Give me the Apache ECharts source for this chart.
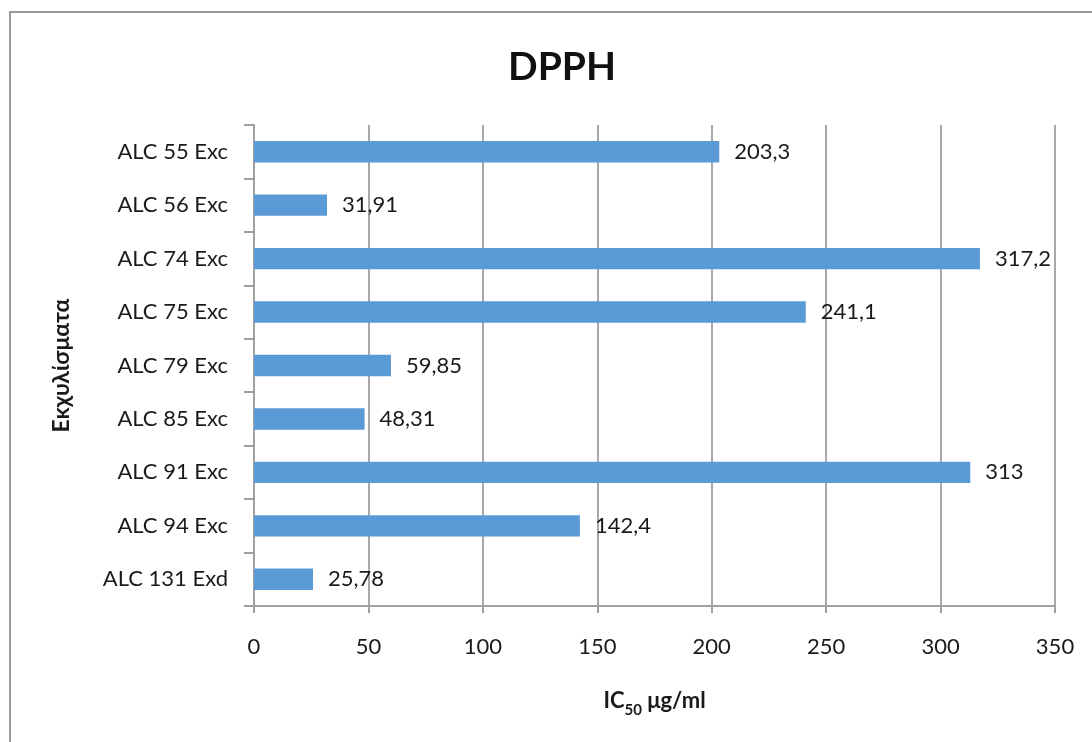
<!DOCTYPE html>
<html><head><meta charset="utf-8">
<script src="https://cdn.jsdelivr.net/npm/echarts@6/dist/echarts.min.js"></script>
<style>html,body{margin:0;padding:0;background:#fff}#c{width:1092px;height:742px}</style>
</head><body><div id="c"></div>
<script>
const categories = ['ALC 55 Exc','ALC 56 Exc','ALC 74 Exc','ALC 75 Exc','ALC 79 Exc','ALC 85 Exc','ALC 91 Exc','ALC 94 Exc','ALC 131 Exd'];
const values = [203.3, 31.91, 317.2, 241.1, 59.85, 48.31, 313, 142.4, 25.78];
const valueLabels = ['203,3','31,91','317,2','241,1','59,85','48,31','313','142,4','25,78'];
const xTicks = [0, 50, 100, 150, 200, 250, 300, 350];
const FONT = 'Lato';
const chart = echarts.init(document.getElementById('c'));
chart.setOption({
  backgroundColor: '#fff',
  animation: false,
  textStyle: { fontFamily: FONT },
  graphic: [{ type: 'rect', shape: { x: 10, y: 12, width: 1200, height: 800 }, style: { fill: 'none', stroke: '#9a9a9a', lineWidth: 2 }, z: 100 }],
  title: { text: 'DPPH', left: 503, top: 43, textStyle: { fontFamily: FONT, fontSize: 39, fontWeight: 'bold', color: '#111' } },
  grid: { left: 254, right: 37, top: 125, bottom: 136, containLabel: false },
  xAxis: {
    type: 'value', min: 0, max: 350, interval: 50,
    axisLine: { show: true, lineStyle: { color: '#a0a0a0', width: 2 } },
    axisTick: { show: true, length: 7, lineStyle: { color: '#a0a0a0', width: 2 } },
    splitLine: { show: true, lineStyle: { color: '#a8a8a8', width: 2 } },
    axisLabel: { margin: 30, fontSize: 22, color: '#1a1a1a', fontFamily: FONT },
    name: '{m|IC}{s|50}{m| μg/ml}', nameLocation: 'middle', nameGap: 80,
    nameTextStyle: { rich: {
      m: { fontSize: 22, fontWeight: 'bold', color: '#1a1a1a', fontFamily: FONT, lineHeight: 26, verticalAlign: 'bottom' },
      s: { fontSize: 15, fontWeight: 'bold', color: '#1a1a1a', fontFamily: FONT, lineHeight: 26, verticalAlign: 'bottom', padding: [0, 0, -6, 0] }
    } }
  },
  yAxis: {
    type: 'category', data: categories, inverse: true,
    axisLine: { show: true, lineStyle: { color: '#a0a0a0', width: 2 } },
    axisTick: { show: true, length: 10, lineStyle: { color: '#a0a0a0', width: 2 } },
    axisLabel: { margin: 26, fontSize: 22, color: '#1a1a1a', fontFamily: FONT },
    name: 'Εκχυλίσματα', nameLocation: 'middle', nameGap: 181,
    nameTextStyle: { fontSize: 23, fontWeight: 'bold', color: '#1a1a1a', fontFamily: FONT }
  },
  series: [{
    type: 'bar', data: values, barWidth: '40%',
    itemStyle: { color: '#5b9bd5' },
    label: { show: true, position: 'right', distance: 15, fontSize: 22, color: '#1a1a1a', fontFamily: FONT,
      formatter: p => valueLabels[p.dataIndex] }
  }]
});
</script></body></html>
